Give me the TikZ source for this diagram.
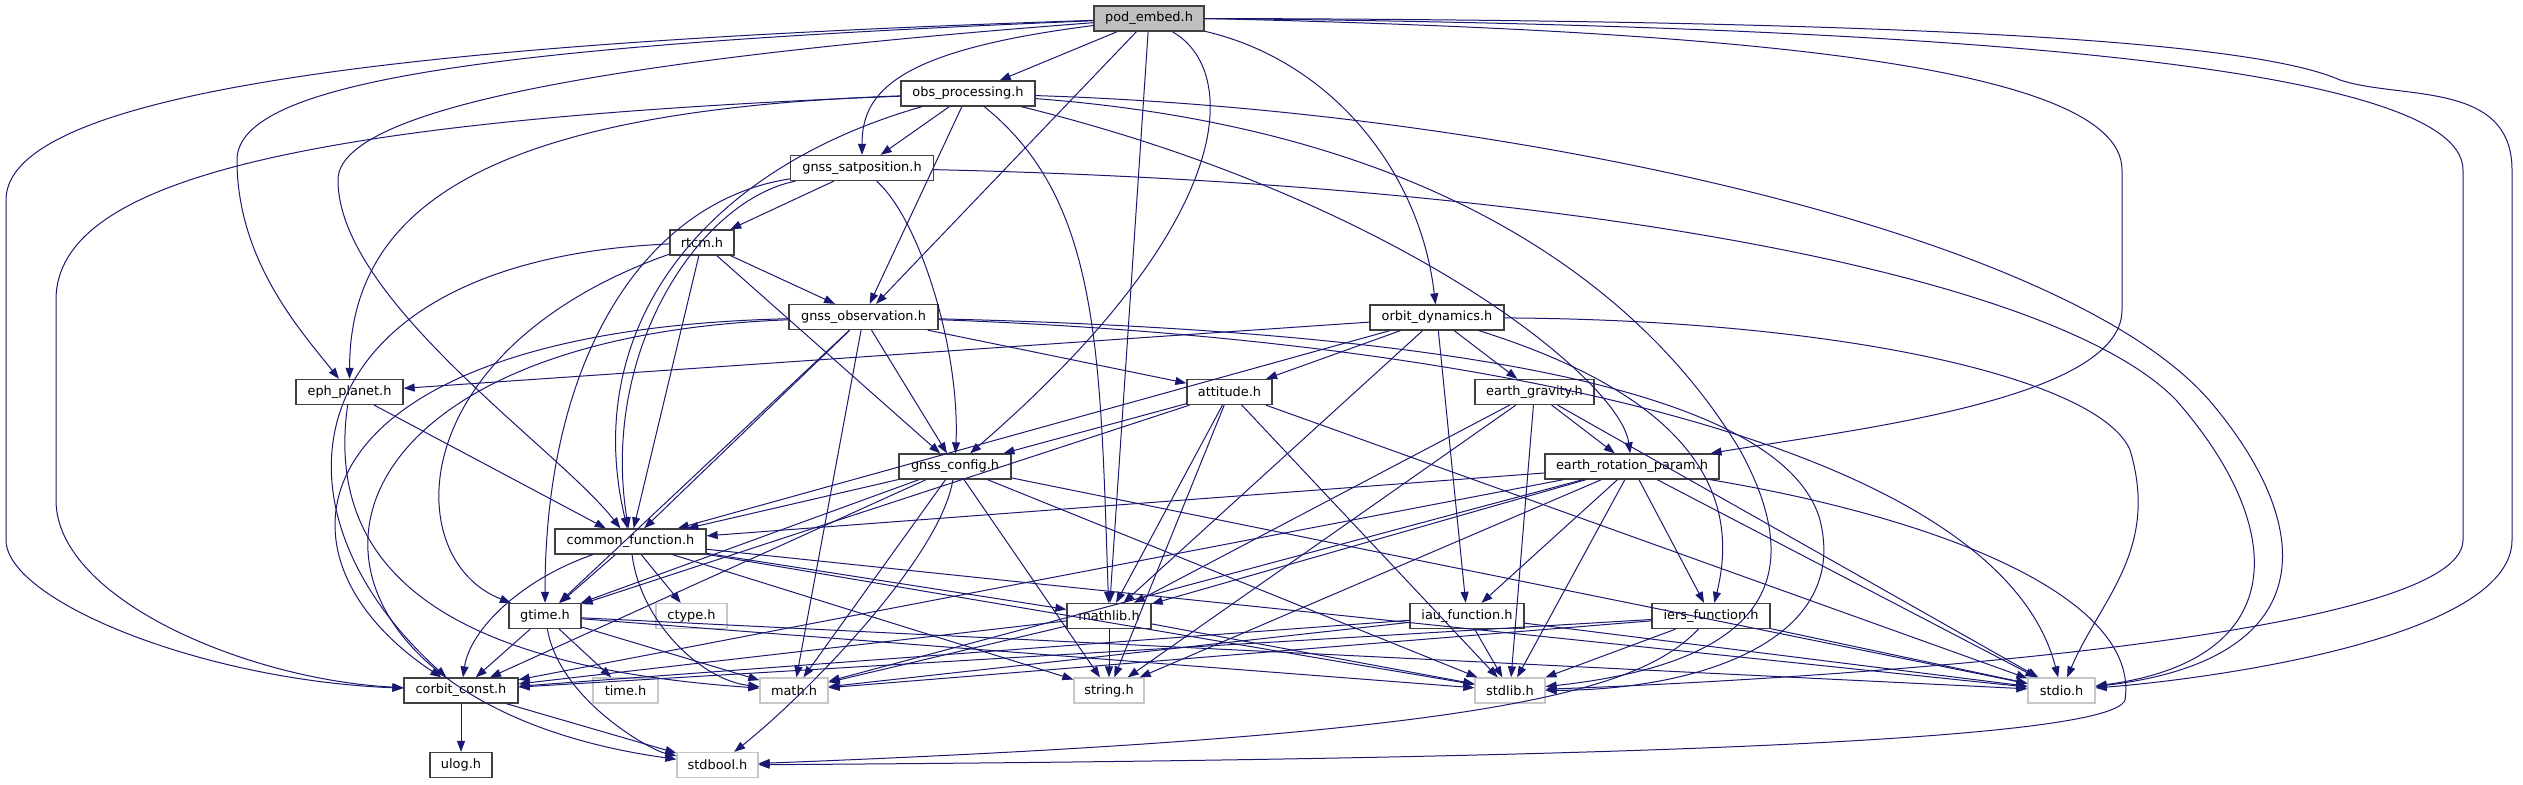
\documentclass[tikz,border=0pt]{standalone}
\usepackage{fontspec}
\newfontfamily\dejavu{DejaVu Sans}
\usetikzlibrary{arrows.meta}
\definecolor{mblue}{HTML}{191970}
\begin{document}
\begin{tikzpicture}[x=1pt,y=-1pt,
 hdr/.style={draw=black!75, line width=1.3pt, fill=white, minimum height=25pt, inner sep=0pt, font=\dejavu\fontsize{12.9}{14}\selectfont},
 sys/.style={hdr, draw=black!22},
 e/.style={draw=mblue, line width=1pt, -{Triangle[length=11pt,width=8pt]}}]
\useasboundingbox (0,0) rectangle (2523,784);
\node[hdr, fill=black!25, minimum width=110pt] (P) at (1149,18.5) {pod\_embed.h};
\node[hdr, minimum width=134pt] (O) at (968,93.5) {obs\_processing.h};
\node[hdr, minimum width=143pt] (S) at (862,168) {gnss\_satposition.h};
\node[hdr, minimum width=64pt] (R) at (702,242.5) {rtcm.h};
\node[hdr, minimum width=149pt] (G) at (863.5,317) {gnss\_observation.h};
\node[hdr, minimum width=134pt] (D) at (1437,317.5) {orbit\_dynamics.h};
\node[hdr, minimum width=107pt] (Ep) at (349.5,392) {eph\_planet.h};
\node[hdr, minimum width=85pt] (A) at (1229.5,392) {attitude.h};
\node[hdr, minimum width=119pt] (E) at (1534.5,392) {earth\_gravity.h};
\node[hdr, minimum width=112pt] (C) at (955,466.5) {gnss\_config.h};
\node[hdr, minimum width=174pt] (T) at (1632,466.5) {earth\_rotation\_param.h};
\node[hdr, minimum width=151pt] (F) at (630.5,541.5) {common\_function.h};
\node[hdr, minimum width=72pt] (Gt) at (545,616) {gtime.h};
\node[sys, minimum width=71pt] (Ct) at (691.5,616) {ctype.h};
\node[hdr, minimum width=84pt] (M) at (1109,616) {mathlib.h};
\node[hdr, minimum width=114pt] (I) at (1467,616) {iau\_function.h};
\node[hdr, minimum width=118pt] (J) at (1711,616) {iers\_function.h};
\node[hdr, minimum width=114pt] (K) at (461,690.5) {corbit\_const.h};
\node[sys, minimum width=65pt] (Tm) at (625.5,690.5) {time.h};
\node[sys, minimum width=68pt] (Ma) at (794,690.5) {math.h};
\node[sys, minimum width=70pt] (St) at (1109,690.5) {string.h};
\node[sys, minimum width=70pt] (Sl) at (1510,690.5) {stdlib.h};
\node[sys, minimum width=67pt] (Sd) at (2061.5,690.5) {stdio.h};
\node[hdr, minimum width=62pt] (U) at (461,765) {ulog.h};
\node[sys, minimum width=81pt] (B) at (717.5,765) {stdbool.h};
% pod_embed
\draw[e] (P) -- (O);
\draw[e] (P) .. controls (900,50) and (862,90) .. (S);
\draw[e] (P) -- (G);
\draw[e] (P) -- (M);
\draw[e] (P) .. controls (1240,70) and (1240,220) .. (C);
\draw[e] (P) .. controls (1330,60) and (1420,170) .. (D);
\draw[e] (P.east) .. controls (1700,30) and (2122,60) .. (2122,170) -- (2122,310) .. controls (2122,400) and (1850,430) .. (T);
\draw[e] (P.east) .. controls (1900,25) and (2463,60) .. (2463,170) -- (2463,540) .. controls (2463,640) and (1800,680) .. (Sl);
\draw[e] (P.east) .. controls (1900,20) and (2250,40) .. (2340,80) .. controls (2400,100) and (2512,80) .. (2512,170) -- (2512,540) .. controls (2512,640) and (2200,680) .. (Sd);
\draw[e] (P) .. controls (500,40) and (6,80) .. (6,200) -- (6,540) .. controls (6,600) and (200,680) .. (K);
\draw[e] (P) .. controls (500,45) and (237,80) .. (237,160) .. controls (237,260) and (300,330) .. (Ep);
\draw[e] (P) .. controls (600,60) and (338,110) .. (338,180) .. controls (338,300) and (560,450) .. (F);
% obs_processing
\draw[e] (O) -- (S);
\draw[e] (O) -- (G);
\draw[e] (O) .. controls (700,170) and (580,330) .. (F);
\draw[e] (O) .. controls (500,110) and (350,200) .. (Ep);
\draw[e] (O) .. controls (300,120) and (56,180) .. (56,300) -- (56,500) .. controls (56,600) and (250,680) .. (K);
\draw[e] (O) .. controls (1100,200) and (1100,350) .. (M);
\draw[e] (O) .. controls (1400,200) and (1620,380) .. (T);
\draw[e] (O) .. controls (1500,110) and (2060,230) .. (2209,400) .. controls (2320,530) and (2320,660) .. (Sd);
\draw[e] (O) .. controls (1450,130) and (1650,300) .. (1740,450) .. controls (1800,560) and (1790,660) .. (Sl);
% gnss_satposition
\draw[e] (S) -- (R);
\draw[e] (S) .. controls (920,220) and (960,350) .. (C);
\draw[e] (S) .. controls (700,200) and (600,350) .. (F);
\draw[e] (S) .. controls (650,200) and (545,350) .. (Gt);
\draw[e] (S) .. controls (1600,185) and (2060,280) .. (2176,400) .. controls (2290,530) and (2290,660) .. (Sd);
% rtcm
\draw[e] (R) -- (G);
\draw[e] (R) -- (C);
\draw[e] (R) -- (F);
\draw[e] (R) .. controls (300,260) and (250,500) .. (K);
\draw[e] (R) .. controls (400,350) and (400,560) .. (Gt);
% gnss_observation
\draw[e] (G) -- (A);
\draw[e] (G) -- (C);
\draw[e] (G) -- (F);
\draw[e] (G) -- (Gt);
\draw[e] (G) .. controls (300,330) and (250,550) .. (K);
\draw[e] (G) .. controls (250,340) and (250,700) .. (B);
\draw[e] (G) -- (Ma);
\draw[e] (G) .. controls (1400,330) and (1780,380) .. (1820,520) .. controls (1850,640) and (1700,690) .. (Sl);
\draw[e] (G) .. controls (1500,340) and (2000,450) .. (Sd);
% orbit_dynamics
\draw[e] (D) -- (Ep);
\draw[e] (D) -- (A);
\draw[e] (D) -- (E);
\draw[e] (D) -- (I);
\draw[e] (D) -- (M);
\draw[e] (D) -- (F);
\draw[e] (D) .. controls (1850,320) and (2100,380) .. (2130,450) .. controls (2160,550) and (2100,600) .. (Sd);
\draw[e] (D) .. controls (1700,400) and (1740,500) .. (J);
% attitude
\draw[e] (A) -- (C);
\draw[e] (A) -- (M);
\draw[e] (A) -- (Gt);
\draw[e] (A) -- (Sl);
\draw[e] (A) -- (Sd);
\draw[e] (A) -- (St);
% earth_gravity
\draw[e] (E) -- (T);
\draw[e] (E) -- (M);
\draw[e] (E) -- (St);
\draw[e] (E) -- (Sl);
\draw[e] (E) -- (Sd);
% gnss_config
\draw[e] (C) -- (F);
\draw[e] (C) -- (Gt);
\draw[e] (C) -- (K);
\draw[e] (C) -- (Ma);
\draw[e] (C) -- (St);
\draw[e] (C) .. controls (940,560) and (800,700) .. (B);
\draw[e] (C) -- (Sl);
\draw[e] (C) -- (Sd);
% earth_rotation_param
\draw[e] (T) -- (F);
\draw[e] (T) -- (M);
\draw[e] (T) -- (I);
\draw[e] (T) -- (J);
\draw[e] (T) -- (K);
\draw[e] (T) -- (Ma);
\draw[e] (T) -- (St);
\draw[e] (T) -- (Sl);
\draw[e] (T) -- (Sd);
\draw[e] (T) .. controls (1950,520) and (2140,600) .. (2125,700) .. controls (2110,745) and (1500,760) .. (B);
% mathlib
\draw[e] (M) -- (K);
\draw[e] (M) -- (Ma);
\draw[e] (M) -- (St);
\draw[e] (M) -- (Sl);
% iau_function
\draw[e] (I) -- (K);
\draw[e] (I) -- (Ma);
\draw[e] (I) -- (Sl);
\draw[e] (I) -- (Sd);
% iers_function
\draw[e] (J) -- (K);
\draw[e] (J) -- (Ma);
\draw[e] (J) -- (Sl);
\draw[e] (J) -- (Sd);
\draw[e] (J) .. controls (1640,690) and (1500,735) .. (B);
% gtime
\draw[e] (Gt) -- (K);
\draw[e] (Gt) -- (Tm);
\draw[e] (Gt) -- (Ma);
\draw[e] (Gt) .. controls (560,700) and (650,750) .. (B);
\draw[e] (Gt) -- (Sl);
\draw[e] (Gt) -- (Sd);
% corbit_const
\draw[e] (K) -- (U);
\draw[e] (K) -- (B);
% eph_planet
\draw[e] (Ep) -- (F);
\draw[e] (Ep) .. controls (320,600) and (500,670) .. (Ma);
% common_function
\draw[e] (F) -- (Gt);
\draw[e] (F) -- (Ct);
\draw[e] (F) -- (M);
\draw[e] (F) .. controls (520,580) and (470,630) .. (K);
\draw[e] (F) .. controls (640,620) and (700,680) .. (Ma);
\draw[e] (F) -- (St);
\draw[e] (F) -- (Sl);
\draw[e] (F) -- (Sd);
\end{tikzpicture}
\end{document}
